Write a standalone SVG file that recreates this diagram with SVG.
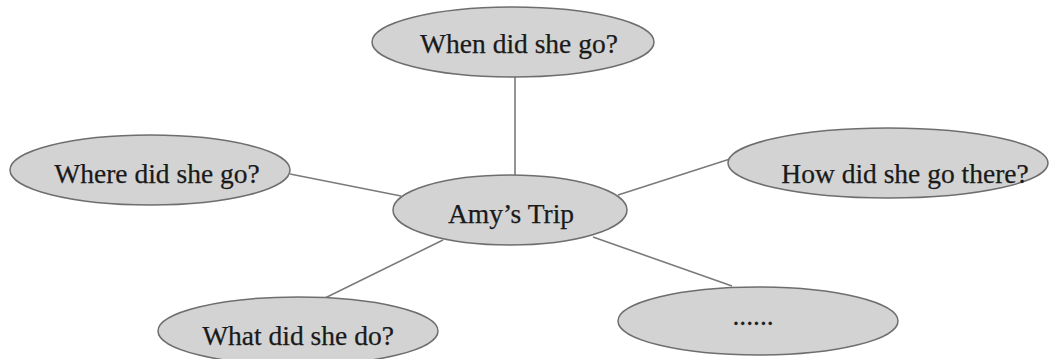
<svg xmlns="http://www.w3.org/2000/svg" width="1049" height="359" viewBox="0 0 1049 359">
  <style>
    .bubble { fill: #d3d3d3; stroke: #6e6e6e; stroke-width: 1.5; }
    .link { stroke: #7a7a7a; stroke-width: 1.6; fill: none; }
    .label { font-family: "Liberation Serif", "Times New Roman", serif; font-size: 27.5px; fill: #1a1a1a; stroke: #1a1a1a; stroke-width: 0.25; text-anchor: middle; }
  </style>
  <rect width="1049" height="359" fill="#ffffff"/>

  <!-- spokes from the centre bubble to each question -->
  <g id="connectors">
    <line class="link" x1="515" y1="77" x2="515" y2="176"/>
    <line class="link" x1="290" y1="174" x2="401" y2="196"/>
    <line class="link" x1="618" y1="195" x2="730" y2="159"/>
    <line class="link" x1="443" y1="240" x2="325" y2="298"/>
    <line class="link" x1="593" y1="237" x2="732" y2="286"/>
  </g>

  <g id="node-when">
    <ellipse class="bubble" cx="513" cy="42" rx="141" ry="35"/>
    <text class="label" x="519" y="53">When did she go?</text>
  </g>

  <g id="node-where">
    <ellipse class="bubble" cx="150" cy="170" rx="140" ry="35"/>
    <text class="label" x="157" y="183">Where did she go?</text>
  </g>

  <g id="node-trip">
    <ellipse class="bubble" cx="510" cy="210" rx="117" ry="35"/>
    <text class="label" x="511" y="223">Amy’s Trip</text>
  </g>

  <g id="node-how">
    <ellipse class="bubble" cx="888" cy="163" rx="160" ry="35"/>
    <text class="label" x="905" y="183">How did she go there?</text>
  </g>

  <g id="node-what">
    <ellipse class="bubble" cx="298" cy="331" rx="140" ry="34"/>
    <text class="label" x="298" y="345">What did she do?</text>
  </g>

  <g id="node-more">
    <ellipse class="bubble" cx="758" cy="321" rx="140" ry="34"/>
    <text class="label" x="753" y="325">......</text>
  </g>
</svg>
